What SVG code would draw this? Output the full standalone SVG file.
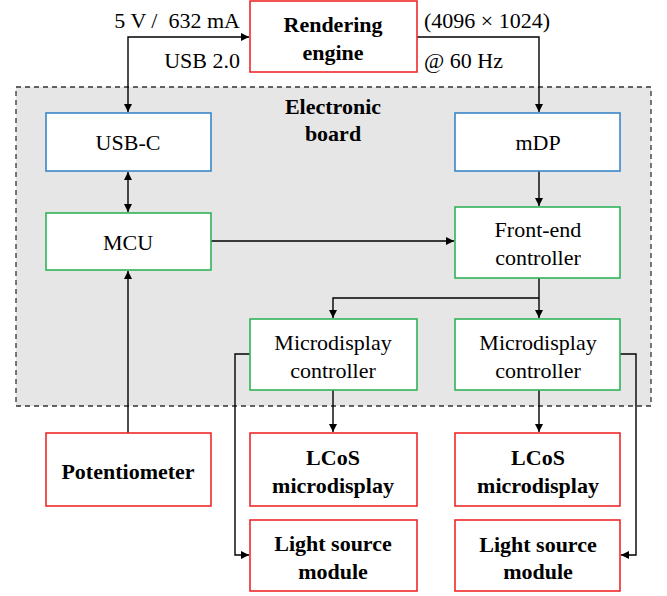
<svg xmlns="http://www.w3.org/2000/svg" width="667" height="596" viewBox="0 0 667 596">
<style>
text{font-family:"Liberation Serif","Times New Roman",serif;font-size:22px;fill:#000;text-anchor:middle;dominant-baseline:central}
.b{font-weight:bold}
.box{fill:#fff;stroke-width:1.6}
.blue{stroke:#3a86c8}
.green{stroke:#2fb457}
.red{stroke:#f02828}
.c{fill:none;stroke:#000;stroke-width:1.4}
</style>
<defs>
<marker id="a" viewBox="0 0 10 10" refX="10" refY="5" markerWidth="8" markerHeight="8" markerUnits="userSpaceOnUse" orient="auto-start-reverse">
<path d="M0,0 L10,5 L0,10 z" fill="#000"/>
</marker>
</defs>
<rect id="board" x="16" y="87" width="635" height="319" fill="#e6e6e6" stroke="#333" stroke-width="1.3" stroke-dasharray="5,4"/>
<text class="b" x="333" y="106">Electronic</text>
<text class="b" x="333" y="133">board</text>
<g id="connectors">
<path class="c" d="M128,112 V37 H249" marker-start="url(#a)" marker-end="url(#a)"/>
<path class="c" d="M417,37 H539 V112" marker-end="url(#a)"/>
<path class="c" d="M128,172 V212" marker-start="url(#a)" marker-end="url(#a)"/>
<path class="c" d="M211,241 H454" marker-end="url(#a)"/>
<path class="c" d="M539,171 V206" marker-end="url(#a)"/>
<path class="c" d="M539,278 V318"  marker-end="url(#a)"/>
<path class="c" d="M539,298 H333 V318" marker-end="url(#a)"/>
<path class="c" d="M128,433 V271" marker-end="url(#a)"/>
<path class="c" d="M333,390 V432" marker-end="url(#a)"/>
<path class="c" d="M539,390 V432" marker-end="url(#a)"/>
<path class="c" d="M250,354 H235 V555 H249" marker-end="url(#a)"/>
<path class="c" d="M620,354 H636 V555 H621" marker-end="url(#a)"/>
</g>
<g id="rendering">
<rect class="box red" x="250" y="1" width="167" height="71"/>
<text class="b" x="333" y="24">Rendering</text>
<text class="b" x="333" y="52">engine</text>
</g>
<g id="labels">
<text x="240" y="20" style="text-anchor:end">5 V / &#160;632 mA</text>
<text x="240" y="60" style="text-anchor:end">USB 2.0</text>
<text x="424" y="20" style="text-anchor:start">(4096 × 1024)</text>
<text x="424" y="60" style="text-anchor:start">@ 60 Hz</text>
</g>
<g id="usbc">
<rect class="box blue" x="46" y="113" width="165" height="58"/>
<text x="128" y="142">USB-C</text>
</g>
<g id="mdp">
<rect class="box blue" x="455" y="113" width="165" height="58"/>
<text x="538" y="142">mDP</text>
</g>
<g id="mcu">
<rect class="box green" x="46" y="213" width="165" height="57"/>
<text x="128" y="242">MCU</text>
</g>
<g id="frontend">
<rect class="box green" x="455" y="207" width="165" height="71"/>
<text x="538" y="229">Front-end</text>
<text x="538" y="257">controller</text>
</g>
<g id="mdc1">
<rect class="box green" x="250" y="319" width="167" height="71"/>
<text x="333" y="342">Microdisplay</text>
<text x="333" y="370">controller</text>
</g>
<g id="mdc2">
<rect class="box green" x="455" y="319" width="165" height="71"/>
<text x="538" y="342">Microdisplay</text>
<text x="538" y="370">controller</text>
</g>
<g id="pot">
<rect class="box red" x="46" y="433" width="165" height="73"/>
<text class="b" x="128" y="471">Potentiometer</text>
</g>
<g id="lcos1">
<rect class="box red" x="250" y="433" width="167" height="73"/>
<text class="b" x="333" y="457">LCoS</text>
<text class="b" x="333" y="485">microdisplay</text>
</g>
<g id="lcos2">
<rect class="box red" x="455" y="433" width="165" height="73"/>
<text class="b" x="538" y="457">LCoS</text>
<text class="b" x="538" y="485">microdisplay</text>
</g>
<g id="light1">
<rect class="box red" x="250" y="520" width="167" height="71"/>
<text class="b" x="333" y="543">Light source</text>
<text class="b" x="333" y="571">module</text>
</g>
<g id="light2">
<rect class="box red" x="455" y="520" width="165" height="71"/>
<text class="b" x="538" y="544">Light source</text>
<text class="b" x="538" y="571">module</text>
</g>
</svg>
